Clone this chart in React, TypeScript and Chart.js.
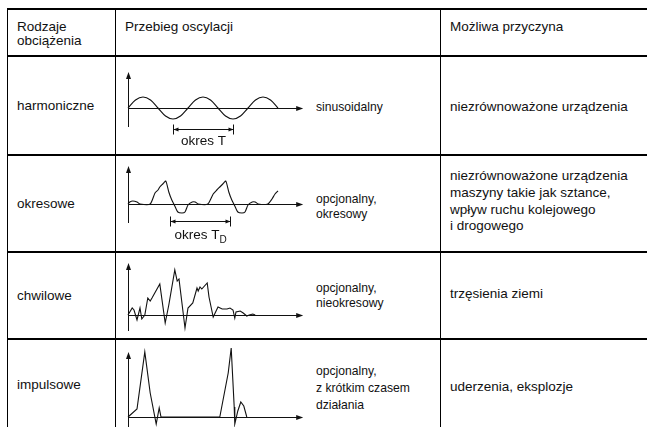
import React, { useEffect, useRef } from 'react';
import { Chart, registerables } from 'chart.js';

Chart.register(...registerables);

// ---------- table text ----------
const HEADER_TYPE = ['Rodzaje', 'obciążenia'];
const HEADER_WAVE = ['Przebieg oscylacji'];
const HEADER_CAUSE = ['Możliwa przyczyna'];
const LOAD_TYPES = ['harmoniczne', 'okresowe', 'chwilowe', 'impulsowe'];
const WAVE_NAMES = [
  ['sinusoidalny'],
  ['opcjonalny,', 'okresowy'],
  ['opcjonalny,', 'nieokresowy'],
  ['opcjonalny,', 'z krótkim czasem', 'działania'],
];
const CAUSES = [
  ['niezrównoważone urządzenia'],
  ['niezrównoważone urządzenia', 'maszyny takie jak sztance,', 'wpływ ruchu kolejowego', 'i drogowego'],
  ['trzęsienia ziemi'],
  ['uderzenia, eksplozje'],
];
const PERIOD_LABELS = ['okres T', 'okres T'];
const PERIOD_SUBS = ['', 'D'];

// ---------- waveform series (time in periods, amplitude in relative units) ----------
const harmonicT = [0, 0.125, 0.25, 0.375, 0.5, 0.625, 0.75, 0.875, 1, 1.125, 1.25, 1.375, 1.5, 1.625, 1.75, 1.875, 2, 2.125, 2.25, 2.375, 2.5];
const harmonicA = [0, 0.8, 1.1, 0.8, 0, -0.8, -1.1, -0.8, 0, 0.8, 1.1, 0.8, 0, -0.8, -1.1, -0.8, 0, 0.8, 1.1, 0.8, 0];

const periodicT = [0, 0.03, 0.08, 0.15, 0.2, 0.37, 0.45, 0.5, 0.53, 0.58, 0.63, 0.68, 0.73, 0.78, 0.83, 0.9, 0.95, 1.0, 1.07, 1.12, 1.17, 1.33, 1.42, 1.48, 1.53, 1.58, 1.63, 1.68, 1.73, 1.78, 1.83, 1.9, 1.95, 2.0, 2.07, 2.12, 2.17, 2.33, 2.4, 2.45, 2.5];
const periodicA = [0, 0.2, 0.3, 0.2, 0, 0, 1.1, 1.4, 1.7, 2.0, 2.3, 1.2, 0.4, -0.2, -0.8, -0.9, -0.8, -0.1, 0.2, 0.2, 0, 0, 1.0, 1.4, 1.7, 2.0, 2.3, 1.2, 0.4, -0.2, -0.8, -0.9, -0.8, -0.1, 0.2, 0.2, 0, 0, 0.5, 1.0, 1.3];

const transientT = [0, 0.07, 0.1, 0.15, 0.2, 0.23, 0.28, 0.33, 0.37, 0.4, 0.53, 0.62, 0.68, 0.78, 0.82, 0.85, 0.95, 1.0, 1.08, 1.15, 1.17, 1.2, 1.23, 1.32, 1.35, 1.42, 1.5, 1.57, 1.65, 1.7, 1.75, 1.78, 1.8, 1.87, 1.92, 1.98, 2.02, 2.08, 2.12];
const transientA = [0, 0.7, 0.5, -0.5, 0.7, -0.4, 0, 1.7, 1.4, 1.7, 3.1, -0.8, 1.0, 4.5, 3.4, 3.6, -1.3, 0.7, 1.2, 2.7, 2.4, 2.8, 2.6, 3.2, 1.8, -0.2, 0.8, 0.6, 0.6, 0.7, 0.5, -0.3, 0.3, 0.4, 0.2, -0.1, 0, 0.1, 0];

const impulseT = [0, 0.15, 0.28, 0.37, 0.47, 0.52, 0.55, 1.53, 1.67, 1.72, 1.77, 1.78, 1.83, 1.88, 1.93, 1.98];
const impulseA = [0, 0.8, 6.5, 2.4, -0.7, 0.9, 0, 0, 4.4, 6.9, 1.0, -0.7, 0.6, 1.5, 1.1, 0];

const periodT = [0.75, 1.75];
const periodTD = [0.7, 1.7];

// ---------- layout ----------
const W = 647;
const H = 427;
const FONT_PX = 13.5;
const FONT = `${FONT_PX}px "Liberation Sans", Arial, Helvetica, sans-serif`;
const ROW_LINES = [9, 56, 155, 252, 339];
const COL_LINES = [7, 115, 440];
const CHART_LEFT = 116;
const CHART_W = 192;
const X_MIN = -0.2;
const X_MAX = 3.0;
const INK = '#111';

const WAVES = [
  { t: harmonicT, a: harmonicA, top: 56, height: 99, yMax: 5.2, vTop: 3.6, vBottom: -1.9, mono: true, tension: 0,
    dim: { from: periodT[0], to: periodT[1], y: -2.1, labelY: -3.3, label: PERIOD_LABELS[0], sub: PERIOD_SUBS[0] } },
  { t: periodicT, a: periodicA, top: 155, height: 97, yMax: 4.9, vTop: 3.8, vBottom: -1.9, mono: false, tension: 0.2,
    dim: { from: periodTD[0], to: periodTD[1], y: -1.7, labelY: -3.1, label: PERIOD_LABELS[1], sub: PERIOD_SUBS[1] } },
  { t: transientT, a: transientA, top: 252, height: 87, yMax: 6.3, vTop: 5.2, vBottom: -1.6, mono: false, tension: 0, dim: null },
  { t: impulseT, a: impulseA, top: 339, height: 88, yMax: 7.8, vTop: 6.5, vBottom: -1.3, mono: false, tension: 0, dim: null },
];

const sketchPlugin = {
  id: 'sketchAxes',
  beforeDatasetsDraw(chart: any, _args: any, opts: any) {
    const { ctx } = chart;
    const xs = chart.scales.x;
    const ys = chart.scales.y;
    const x0 = Math.round(xs.getPixelForValue(0)) + 0.5;
    const y0 = Math.round(ys.getPixelForValue(0)) + 0.5;
    const xEnd = xs.getPixelForValue(opts.xEnd);
    const yTop = ys.getPixelForValue(opts.vTop);
    const yBot = ys.getPixelForValue(opts.vBottom);
    ctx.save();
    ctx.strokeStyle = INK;
    ctx.fillStyle = INK;
    ctx.lineWidth = 1;
    ctx.beginPath();
    ctx.moveTo(x0, y0);
    ctx.lineTo(xEnd - 5, y0);
    ctx.moveTo(x0, yBot);
    ctx.lineTo(x0, yTop + 5);
    ctx.stroke();
    // arrow heads
    ctx.beginPath();
    ctx.moveTo(xEnd, y0);
    ctx.lineTo(xEnd - 7, y0 - 2.5);
    ctx.lineTo(xEnd - 7, y0 + 2.5);
    ctx.closePath();
    ctx.fill();
    ctx.beginPath();
    ctx.moveTo(x0, yTop);
    ctx.lineTo(x0 - 2.5, yTop + 7);
    ctx.lineTo(x0 + 2.5, yTop + 7);
    ctx.closePath();
    ctx.fill();

    const d = opts.dim;
    if (d) {
      const xa = Math.round(xs.getPixelForValue(d.from)) + 0.5;
      const xb = Math.round(xs.getPixelForValue(d.to)) + 0.5;
      const yd = Math.round(ys.getPixelForValue(d.y)) + 0.5;
      ctx.beginPath();
      ctx.moveTo(xa, yd);
      ctx.lineTo(xb, yd);
      ctx.moveTo(xa, yd - 5);
      ctx.lineTo(xa, yd + 5);
      ctx.moveTo(xb, yd - 5);
      ctx.lineTo(xb, yd + 5);
      ctx.stroke();
      ctx.beginPath();
      ctx.moveTo(xa, yd);
      ctx.lineTo(xa + 5, yd - 2);
      ctx.lineTo(xa + 5, yd + 2);
      ctx.closePath();
      ctx.moveTo(xb, yd);
      ctx.lineTo(xb - 5, yd - 2);
      ctx.lineTo(xb - 5, yd + 2);
      ctx.closePath();
      ctx.fill();
      // label
      const ly = ys.getPixelForValue(d.labelY);
      ctx.font = FONT;
      ctx.textBaseline = 'middle';
      ctx.textAlign = 'left';
      const w1 = ctx.measureText(d.label).width;
      let w2 = 0;
      const subFont = `10px "Liberation Sans", Arial, Helvetica, sans-serif`;
      if (d.sub) {
        ctx.font = subFont;
        w2 = ctx.measureText(d.sub).width;
      }
      const cx = (xa + xb) / 2;
      const sx = cx - (w1 + w2) / 2;
      ctx.font = FONT;
      ctx.fillText(d.label, sx, ly);
      if (d.sub) {
        ctx.font = subFont;
        ctx.fillText(d.sub, sx + w1, ly + 5);
      }
    }
    ctx.restore();
  },
};

function WaveChart({ cfg }: { cfg: any }) {
  const ref = useRef<HTMLCanvasElement | null>(null);
  useEffect(() => {
    const canvas = ref.current;
    if (!canvas) return;
    const yMin = cfg.yMax - cfg.height / 10;
    const chart = new Chart(canvas, {
      type: 'line',
      data: {
        datasets: [
          {
            data: cfg.t.map((t: number, i: number) => ({ x: t, y: cfg.a[i] })),
            borderColor: INK,
            borderWidth: 1.1,
            pointRadius: 0,
            fill: false,
            tension: cfg.tension,
            cubicInterpolationMode: cfg.mono ? 'monotone' : 'default',
          },
        ],
      },
      options: {
        responsive: false,
        animation: false,
        devicePixelRatio: 1,
        layout: { padding: 0 },
        events: [],
        scales: {
          x: { type: 'linear', min: X_MIN, max: X_MAX, display: false },
          y: { type: 'linear', min: yMin, max: cfg.yMax, display: false },
        },
        plugins: {
          legend: { display: false },
          tooltip: { enabled: false },
          sketchAxes: { xEnd: 2.92, vTop: cfg.vTop, vBottom: cfg.vBottom, dim: cfg.dim },
        } as any,
      } as any,
      plugins: [sketchPlugin],
    });
    return () => chart.destroy();
  }, [cfg]);
  return (
    <canvas
      ref={ref}
      width={CHART_W}
      height={cfg.height}
      style={{ position: 'absolute', left: CHART_LEFT, top: cfg.top, width: CHART_W, height: cfg.height }}
    />
  );
}

function TextBlock({ lines, x, cy, lh, sx = 1 }: { lines: string[]; x: number; cy: number; lh: number; sx?: number }) {
  return (
    <div
      style={{
        position: 'absolute',
        left: x,
        top: cy - lh / 2,
        font: FONT,
        lineHeight: `${lh}px`,
        color: INK,
        whiteSpace: 'nowrap',
        transform: sx !== 1 ? `scaleX(${sx})` : undefined,
        transformOrigin: 'left top',
      }}
    >
      {lines.map((l, i) => (
        <div key={i}>{l}</div>
      ))}
    </div>
  );
}

const TYPE_CY = [106, 204, 296, 385];
const WAVE_NAME_CY = [106, 198, 287, 370];
const CAUSE_CY = [106, 176.5, 293, 386];

export default function App() {
  return (
    <div
      style={{
        position: 'fixed',
        left: 0,
        top: 0,
        width: W,
        height: H,
        background: '#fff',
        overflow: 'hidden',
      }}
    >
      {ROW_LINES.map((y, i) => (
        <div key={'h' + i} style={{ position: 'absolute', left: COL_LINES[0], top: y - 1, width: W - COL_LINES[0], height: 2, background: '#000' }} />
      ))}
      {COL_LINES.map((x, i) => (
        <div key={'v' + i} style={{ position: 'absolute', left: x - 0.5, top: ROW_LINES[0], width: 1.5, height: H - ROW_LINES[0], background: '#000' }} />
      ))}

      <TextBlock lines={HEADER_TYPE} x={17} cy={27} lh={14} />
      <TextBlock lines={HEADER_WAVE} x={125} cy={27} lh={16} />
      <TextBlock lines={HEADER_CAUSE} x={450} cy={27} lh={16} />

      {LOAD_TYPES.map((t, i) => (
        <TextBlock key={'t' + i} lines={[t]} x={17} cy={TYPE_CY[i]} lh={16} />
      ))}
      {WAVE_NAMES.map((l, i) => (
        <TextBlock key={'w' + i} lines={l} x={316} cy={WAVE_NAME_CY[i]} lh={i === 3 ? 17 : 15} sx={0.9} />
      ))}
      {CAUSES.map((l, i) => (
        <TextBlock key={'c' + i} lines={l} x={450} cy={CAUSE_CY[i]} lh={i === 1 ? 16.7 : 17} />
      ))}

      {WAVES.map((cfg, i) => (
        <WaveChart key={'c' + i} cfg={cfg} />
      ))}
    </div>
  );
}
